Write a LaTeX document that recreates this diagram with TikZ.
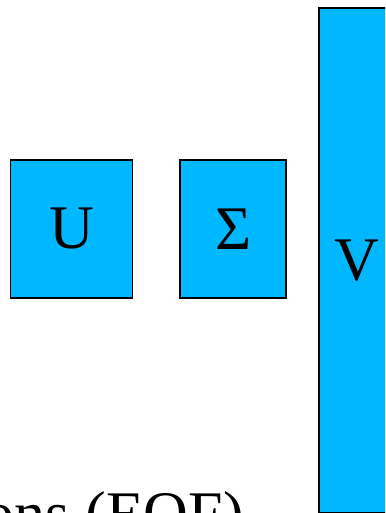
\documentclass[tikz,border=0pt]{standalone}
\usepackage{fontspec}
\setmainfont{Liberation Serif}
\usetikzlibrary{positioning}
\definecolor{matblue}{RGB}{0, 184, 255}

\begin{document}
\begin{tikzpicture}[x=1pt, y=-1pt,
    mat/.style={draw=black, line width=1.8pt, fill=matblue, inner sep=0pt,
                minimum height=138pt, font=\fontsize{62}{70}\selectfont}
]
    \useasboundingbox (0,0) rectangle (385,513);
    \clip (0,0) rectangle (385,513);
    \node[mat, minimum width=122pt] (u) at (71.5,229) {U};
    \node[mat, minimum width=106pt, right=46pt of u] (sigma) {Σ};
    \node[mat, minimum width=75pt, minimum height=505pt, anchor=north west] (v) at (318,7) {V};
    \node[font=\fontsize{62}{70}\selectfont, anchor=base east, inner sep=0pt] (caption) at (244,534) {ons (EOF)};
\end{tikzpicture}
\end{document}
